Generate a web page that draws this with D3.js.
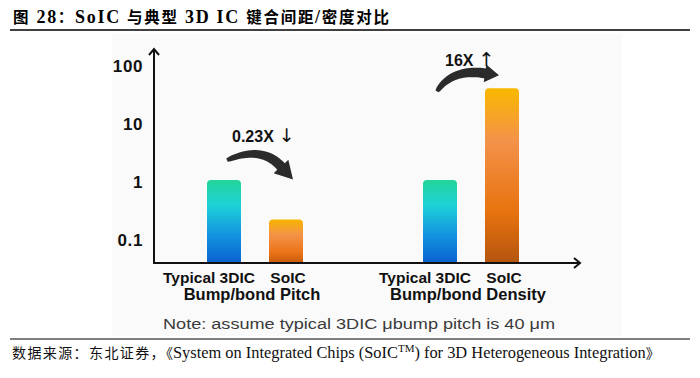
<!DOCTYPE html>
<html>
<head>
<meta charset="utf-8">
<script src="https://cdn.jsdelivr.net/npm/d3@7"></script>
<style>
  body { margin: 0; background: #fff; }
  text { font-family: "Liberation Sans", Arial, sans-serif; }
</style>
</head>
<body>
<div id="chart"></div>
<script>
// Data (normalized to typical 3DIC = 1, log scale)
const groups = ["Bump/bond Pitch", "Bump/bond Density"];
const keys = ["Typical 3DIC", "SoIC"];
const pitchValues = [1.1, 0.23];
const densityValues = [1.1, 42];
const yTicks = [0.1, 1, 10, 100];
const yTickLabels = ["0.1", "1", "10", "100"];
const changeLabels = ["0.23X", "16X"];
const changeArrows = ["\u2193\uFE0E", "\u2191\uFE0E"];

// title pieces: [text, isLatin]
const titleParts = [["图", 0], [" 28", 1], ["：", 0], ["SoIC ", 1], ["与典型", 0], [" 3D IC ", 1], ["键合间距", 0], ["/", 1], ["密度对比", 0]];
const noteText = "Note: assume typical 3DIC μbump pitch is 40 μm";

const W = 700, H = 378;
const svg = d3.select("#chart").append("svg")
    .attr("width", W)
    .attr("height", H);

// Light backdrop of the pasted picture
svg.append("rect")
    .attr("x", 112).attr("y", 34)
    .attr("width", 510).attr("height", 302)
    .attr("fill", "#fafafa");

// Title + rules
const title = svg.append("text")
    .attr("x", 13).attr("y", 23)
    .attr("textLength", 376)
    .attr("lengthAdjust", "spacing")
    .style("font-weight", "bold");
titleParts.forEach(p => {
    title.append("tspan")
        .style("font-family", p[1] ? "'Liberation Serif', serif" : "'Noto Sans CJK SC', sans-serif")
        .style("font-size", p[1] ? "18px" : "15.5px")
        .text(p[0]);
});

svg.append("line")
    .attr("x1", 10).attr("x2", 690).attr("y1", 30).attr("y2", 30)
    .attr("stroke", "#000").attr("stroke-width", 1.5);

svg.append("line")
    .attr("x1", 10).attr("x2", 690).attr("y1", 339).attr("y2", 339)
    .attr("stroke", "#000").attr("stroke-width", 1.2);

const serif = "'Liberation Serif', 'Noto Sans CJK SC', serif";
const src = svg.append("text").attr("y", 358).style("font-family", serif).attr("fill", "#111");
src.append("tspan").attr("x", 12).attr("textLength", 161)
    .style("font-family", "'Noto Sans CJK SC', sans-serif").style("font-size", "14px")
    .text("数据来源：东北证券，《");
src.append("tspan").attr("x", 173).style("font-size", "16.4px")
    .text("System on Integrated Chips (SoIC");
src.append("tspan").attr("dy", -6).style("font-size", "11px").text("TM");
src.append("tspan").attr("dy", 6).style("font-size", "16.4px")
    .text(") for 3D Heterogeneous Integration");
src.append("tspan").style("font-family", "'Noto Sans CJK SC', sans-serif").style("font-size", "14px").text("》");

// Scales
const x0 = d3.scaleBand().domain(groups).range([147, 579]);
const x1 = d3.scaleBand().domain(keys).range([60, 156]).paddingInner(0.4516);
const y = d3.scaleLog().domain([0.041, 100]).range([263, 66.5]);

const data = groups.map((g, i) => keys.map((k, j) => ({
    group: g, key: k, value: [pitchValues, densityValues][i][j]
}))).flat();

const cx = d => x0(d.group) + x1(d.key) + x1.bandwidth() / 2;

// Gradients
const defs = svg.append("defs");
function grad(id, stops) {
    const lg = defs.append("linearGradient").attr("id", id)
        .attr("x1", 0).attr("y1", 0).attr("x2", 0).attr("y2", 1);
    stops.forEach(s => lg.append("stop").attr("offset", s[0]).attr("stop-color", s[1]));
}
grad("g3dic", [[0, "#24d49a"], [0.3, "#1ed2d8"], [0.65, "#1495e0"], [1, "#0a62cf"]]);
grad("gsoic", [[0, "#f8b400"], [0.35, "#f39348"], [0.75, "#ec7418"], [1, "#c55a0c"]]);
grad("gsoic2", [[0, "#f9b800"], [0.3, "#f3924a"], [0.7, "#e8730f"], [1, "#b4550f"]]);

defs.append("marker")
    .attr("id", "ah")
    .attr("viewBox", "-8 -6 10 12")
    .attr("markerWidth", 10).attr("markerHeight", 12)
    .attr("markerUnits", "userSpaceOnUse")
    .attr("orient", "auto")
    .append("path")
    .attr("d", "M-6,-5L0,0L-6,5")
    .attr("fill", "none").attr("stroke", "#111").attr("stroke-width", 2);

// Bars (rounded top corners)
const r = 4;
const base = y.range()[0];
svg.selectAll(".bar")
    .data(data)
    .join("path")
    .attr("class", "bar")
    .attr("d", d => {
        const x = x0(d.group) + x1(d.key), w = x1.bandwidth(), t = y(d.value);
        return `M${x},${base}V${t + r}Q${x},${t} ${x + r},${t}H${x + w - r}Q${x + w},${t} ${x + w},${t + r}V${base}Z`;
    })
    .attr("fill", d => d.key === "SoIC" ? (d.value > 10 ? "url(#gsoic2)" : "url(#gsoic)") : "url(#g3dic)");

// Axes
const yAxis = svg.append("g")
    .attr("transform", `translate(154,0)`)
    .call(d3.axisLeft(y).tickValues(yTicks).tickSize(0).tickPadding(11)
        .tickFormat((d, i) => yTickLabels[i]));
yAxis.select(".domain").remove();
yAxis.selectAll("text")
    .style("font-family", "'Liberation Sans', Arial, sans-serif")
    .style("font-weight", "bold")
    .style("font-size", "17px")
    .style("letter-spacing", "0.6px")
    .attr("fill", "#111");

svg.append("line")
    .attr("x1", 154).attr("x2", 154).attr("y1", 264).attr("y2", 49)
    .attr("stroke", "#111").attr("stroke-width", 2)
    .attr("marker-end", "url(#ah)");
svg.append("line")
    .attr("x1", 153).attr("x2", 580).attr("y1", 263).attr("y2", 263)
    .attr("stroke", "#111").attr("stroke-width", 2)
    .attr("marker-end", "url(#ah)");

// Category labels
svg.selectAll(".klab")
    .data(data)
    .join("text")
    .attr("class", "klab")
    .attr("x", d => cx(d) + (d.key === "SoIC" ? 2 : -15))
    .attr("y", 283)
    .attr("text-anchor", "middle")
    .style("font-weight", "bold")
    .style("font-size", "15.5px")
    .attr("fill", "#111")
    .text(d => d.key);

svg.selectAll(".glab")
    .data(groups)
    .join("text")
    .attr("class", "glab")
    .attr("x", g => x0(g) + x0.bandwidth() / 2 - 3)
    .attr("y", 300)
    .attr("text-anchor", "middle")
    .style("font-weight", "bold")
    .style("font-size", "16.5px")
    .attr("fill", "#111")
    .text(g => g);

// Note
svg.append("text")
    .attr("x", 163).attr("y", 329)
    .attr("textLength", 392)
    .attr("lengthAdjust", "spacingAndGlyphs")
    .style("font-size", "14px")
    .attr("fill", "#3a3a3a")
    .text(noteText);

// Curved tapered arrows
function taperArrow(p0, c, p2, tip, w0, w1, hw) {
    const left = [], right = [];
    const n = 24;
    for (let i = 0; i <= n; i++) {
        const t = i / n, u = 1 - t;
        const px = u * u * p0[0] + 2 * u * t * c[0] + t * t * p2[0];
        const py = u * u * p0[1] + 2 * u * t * c[1] + t * t * p2[1];
        let dx = 2 * u * (c[0] - p0[0]) + 2 * t * (p2[0] - c[0]);
        let dy = 2 * u * (c[1] - p0[1]) + 2 * t * (p2[1] - c[1]);
        const len = Math.hypot(dx, dy);
        dx /= len; dy /= len;
        const w = (w0 + (w1 - w0) * Math.sqrt(t)) / 2;
        left.push([px - dy * w, py + dx * w]);
        right.push([px + dy * w, py - dx * w]);
    }
    let hx = tip[0] - p2[0], hy = tip[1] - p2[1];
    const hl = Math.hypot(hx, hy);
    hx /= hl; hy /= hl;
    const headL = [p2[0] - hy * hw, p2[1] + hx * hw];
    const headR = [p2[0] + hy * hw, p2[1] - hx * hw];
    return d3.line()(left.concat([headL, tip, headR], right.reverse())) + "Z";
}

const pitch = data.filter(d => d.group === groups[0]);
const dens = data.filter(d => d.group === groups[1]);

const a1x = cx(pitch[0]), a1y = y(pitch[0].value);
const b1x = cx(pitch[1]), b1y = y(pitch[1].value);
svg.append("path")
    .attr("d", taperArrow([a1x + 3, a1y - 20], [a1x + 38, a1y - 35], [b1x - 5, b1y - 53], [b1x + 7, b1y - 40], 3.5, 10, 10))
    .attr("fill", "#2b2b2b");

const a2x = cx(dens[0]);
const b2x = cx(dens[1]), b2y = y(dens[1].value);
svg.append("path")
    .attr("d", taperArrow([a2x - 3, b2y + 3], [a2x + 12, b2y - 20], [b2x - 17, b2y - 15], [b2x - 3, b2y - 13], 3.5, 10, 9))
    .attr("fill", "#2b2b2b");

// Change labels
const ann = [
    { x: a1x + 8, y: a1y - 38, label: changeLabels[0], arrow: changeArrows[0] },
    { x: a2x + 5, y: b2y - 22, label: changeLabels[1], arrow: changeArrows[1] }
];
ann.forEach(a => {
    const t = svg.append("text").attr("x", a.x).attr("y", a.y).attr("fill", "#111");
    t.append("tspan").style("font-weight", "bold").style("font-size", "16px").text(a.label);
    t.append("tspan").attr("dx", 5).style("font-family", "'DejaVu Sans', sans-serif")
        .style("font-size", "19px").text(a.arrow);
});
</script>
</body>
</html>
